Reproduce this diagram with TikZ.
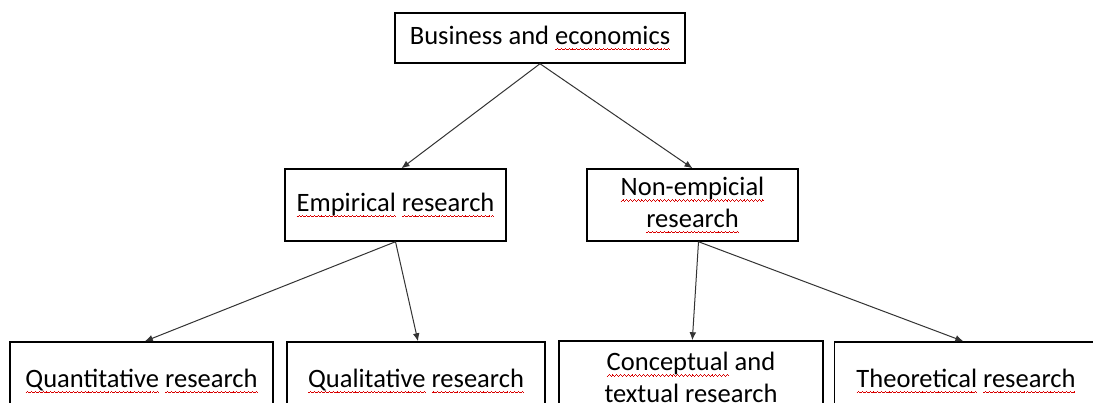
\documentclass[tikz,border=0pt]{standalone}
\usepackage{fontspec}
\setmainfont{Carlito}
\usetikzlibrary{arrows.meta}
\newcommand\sqbox{\hbox{{\color{red!85!black}\rule[-4.4pt]{0.7pt}{0.55pt}\rule[-3.9pt]{0.7pt}{0.55pt}\rule[-3.4pt]{0.7pt}{0.55pt}\rule[-3.9pt]{0.7pt}{0.55pt}}}}
\newcommand\sq[1]{\leavevmode\setbox0\hbox{#1}\rlap{\hbox to\wd0{\xleaders\sqbox\hfill}}\box0\relax}
\tikzset{
  box/.style={draw=black, line width=1.1pt, rectangle, inner sep=0pt, align=center,
    font=\fontsize{19.9}{23.8}\selectfont},
  conn/.style={draw=black!80, line width=0.75pt, -{Latex[length=6pt,width=5pt]}}
}
\begin{document}
\begin{tikzpicture}[x=0.75pt,y=-0.75pt]
\useasboundingbox (0,0) rectangle (1093,403);
\clip (0,0) rectangle (1093,403);
\fill[white] (0,0) rectangle (1093,403);
\node[box, minimum width=217.5pt, minimum height=37.5pt] (top) at (540,38) {Business and \sq{economics}};
\node[box, minimum width=165.75pt, minimum height=54pt] (emp) at (395.5,205) {\sq{Empirical} \sq{research}};
\node[box, minimum width=158.25pt, minimum height=54pt] (nonemp) at (692.5,205) {\sq{Non-empicial}\\\sq{research}};
\node[box, minimum width=197.25pt, minimum height=58.5pt] (quant) at (141.5,381) {\sq{Quantitative} \sq{research}};
\node[box, minimum width=193.5pt, minimum height=58.5pt] (qual) at (416,381) {\sq{Qualitative} \sq{research}};
\node[box, minimum width=198pt, minimum height=58.5pt] (concept) at (691,380) {\sq{Conceptual} and\\\sq{textual} \sq{research}};
\node[box, minimum width=197.25pt, minimum height=58.5pt] (theor) at (966,381) {\sq{Theoretical} \sq{research}};
\draw[conn] (top.south) -- ([xshift=4.5]emp.north);
\draw[conn] (top.south) -- (nonemp.north);
\draw[conn] (emp.south) -- ([xshift=2.5]quant.north);
\draw[conn] (emp.south) -- ([xshift=1.5]qual.north);
\draw[conn] ([xshift=4.5]nonemp.south) -- ([xshift=1]concept.north);
\draw[conn] ([xshift=4.5]nonemp.south) -- ([xshift=-2]theor.north);
\end{tikzpicture}
\end{document}
